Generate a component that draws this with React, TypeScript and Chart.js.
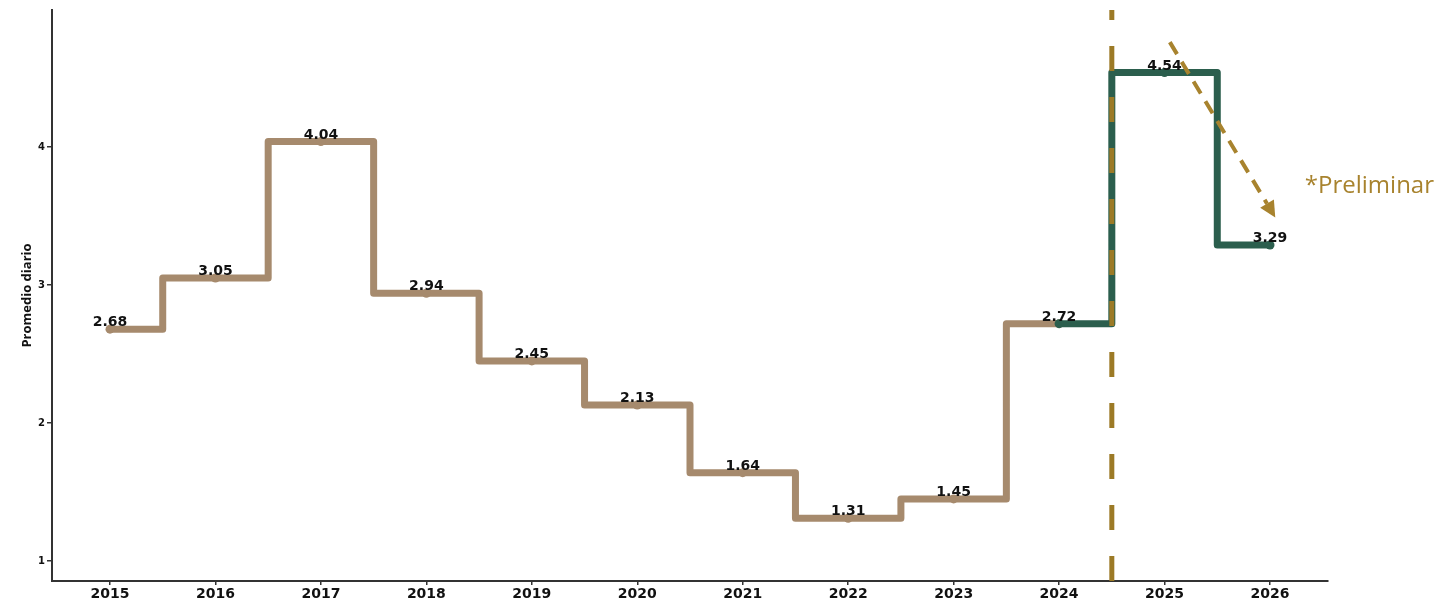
import React, { useEffect, useRef } from "react";
import { Chart, registerables } from "chart.js";

Chart.register(...registerables);

const YEARS_HIST = [2015, 2016, 2017, 2018, 2019, 2020, 2021, 2022, 2023, 2024];
const VALUES_HIST = [2.68, 3.05, 4.04, 2.94, 2.45, 2.13, 1.64, 1.31, 1.45, 2.72];
const YEARS_PRELIM = [2024, 2025, 2026];
const VALUES_PRELIM = [2.72, 4.54, 3.29];
const X_TICKS = [2015, 2016, 2017, 2018, 2019, 2020, 2021, 2022, 2023, 2024, 2025, 2026];
const Y_TICKS = [1, 2, 3, 4];
const X_RANGE = [2014.45, 2026.55];
const Y_RANGE = [0.855, 4.993];
const DIVIDER_X = 2024.5;
const ARROW_FROM = [2025.05, 4.76];
const ARROW_TO = [2026.05, 3.49];
const NOTE_TEXT = "*Preliminar";
const NOTE_POS = [2026.33, 3.72];
const Y_TITLE = "Promedio diario";

const TAN = "#a68a6d";
const GREEN = "#2b5e4d";
const GOLD = "#9c7a26";
const ARROW_GOLD = "#a8832e";
const AXIS = "#333333";

export default function App() {
  const ref = useRef<HTMLCanvasElement | null>(null);

  useEffect(() => {
    if (!ref.current) return;

    const overlay = {
      id: "overlay",
      afterDatasetsDraw(chart: any) {
        const ctx = chart.ctx;
        const xs = chart.scales.x;
        const ys = chart.scales.y;
        const area = chart.chartArea;

        // vertical divider
        ctx.save();
        const dx = xs.getPixelForValue(DIVIDER_X);
        ctx.strokeStyle = GOLD;
        ctx.lineWidth = 5;
        ctx.setLineDash([25, 26]);
        ctx.lineDashOffset = 15;
        ctx.beginPath();
        ctx.moveTo(dx, area.top);
        ctx.lineTo(dx, area.bottom);
        ctx.stroke();
        ctx.restore();

        // arrow
        ctx.save();
        const ax0 = xs.getPixelForValue(ARROW_FROM[0]);
        const ay0 = ys.getPixelForValue(ARROW_FROM[1]);
        const ax1 = xs.getPixelForValue(ARROW_TO[0]);
        const ay1 = ys.getPixelForValue(ARROW_TO[1]);
        const ang = Math.atan2(ay1 - ay0, ax1 - ax0);
        const headLen = 16;
        const headW = 8;
        const bx = ax1 - headLen * Math.cos(ang);
        const by = ay1 - headLen * Math.sin(ang);
        ctx.strokeStyle = ARROW_GOLD;
        ctx.lineWidth = 4;
        ctx.setLineDash([14, 9]);
        ctx.beginPath();
        ctx.moveTo(ax0, ay0);
        ctx.lineTo(bx, by);
        ctx.stroke();
        ctx.setLineDash([]);
        ctx.fillStyle = ARROW_GOLD;
        ctx.beginPath();
        ctx.moveTo(ax1, ay1);
        ctx.lineTo(bx + headW * Math.sin(ang), by - headW * Math.cos(ang));
        ctx.lineTo(bx - headW * Math.sin(ang), by + headW * Math.cos(ang));
        ctx.closePath();
        ctx.fill();
        ctx.restore();

        // data labels
        ctx.save();
        ctx.font = "bold 14px 'DejaVu Sans'";
        ctx.fillStyle = "#111111";
        ctx.textAlign = "center";
        ctx.textBaseline = "alphabetic";
        chart.data.datasets.forEach((ds: any, di: number) => {
          const meta = chart.getDatasetMeta(di);
          meta.data.forEach((pt: any, i: number) => {
            if (ds.skipFirstLabel && i === 0) return;
            const v = ds.data[i].y;
            ctx.fillText(v.toFixed(2), pt.x, pt.y - 3);
          });
        });
        ctx.restore();

        // note text
        ctx.save();
        ctx.font = "24px 'Open Sans'";
        ctx.fillStyle = ARROW_GOLD;
        ctx.textAlign = "left";
        ctx.textBaseline = "middle";
        ctx.fillText(NOTE_TEXT, xs.getPixelForValue(NOTE_POS[0]), ys.getPixelForValue(NOTE_POS[1]));
        ctx.restore();
      },
    };

    const chart = new Chart(ref.current, {
      type: "line",
      data: {
        datasets: [
          {
            label: "Preliminar",
            data: YEARS_PRELIM.map((x, i) => ({ x, y: VALUES_PRELIM[i] })),
            borderColor: GREEN,
            backgroundColor: GREEN,
            borderWidth: 7,
            stepped: "middle",
            pointRadius: 4.5,
            pointHoverRadius: 4.5,
            pointBorderWidth: 0,
            borderJoinStyle: "round",
            borderCapStyle: "round",
            order: 0,
            skipFirstLabel: true,
          } as any,
          {
            label: "Histórico",
            data: YEARS_HIST.map((x, i) => ({ x, y: VALUES_HIST[i] })),
            borderColor: TAN,
            backgroundColor: TAN,
            borderWidth: 7,
            stepped: "middle",
            pointRadius: 4.5,
            pointHoverRadius: 4.5,
            pointBorderWidth: 0,
            borderJoinStyle: "round",
            borderCapStyle: "round",
            order: 1,
          } as any,
        ],
      },
      options: {
        animation: false,
        responsive: true,
        maintainAspectRatio: false,
        layout: { padding: { top: 10, right: 109, left: 0, bottom: 0 } },
        plugins: {
          legend: { display: false },
          tooltip: { enabled: false },
        },
        scales: {
          x: {
            type: "linear",
            min: X_RANGE[0],
            max: X_RANGE[1],
            afterBuildTicks: (scale: any) => {
              scale.ticks = X_TICKS.map((v) => ({ value: v }));
            },
            afterFit: (scale: any) => {
              scale.height = 22;
            },
            ticks: {
              callback: (v: any) => String(v),
              font: { family: "'DejaVu Sans'", weight: "bold", size: 14 },
              color: "#111111",
              padding: 1,
              maxRotation: 0,
              autoSkip: false,
            },
            grid: {
              display: true,
              drawOnChartArea: false,
              drawTicks: true,
              tickLength: 4,
              color: AXIS,
              lineWidth: 1.5,
            },
            border: { display: true, color: AXIS, width: 2 },
          },
          y: {
            type: "linear",
            min: Y_RANGE[0],
            max: Y_RANGE[1],
            afterBuildTicks: (scale: any) => {
              scale.ticks = Y_TICKS.map((v) => ({ value: v }));
            },
            afterFit: (scale: any) => {
              scale.width = 52;
            },
            ticks: {
              callback: (v: any) => String(v),
              font: { family: "'DejaVu Sans'", weight: "bold", size: 10 },
              color: "#111111",
              padding: 2,
            },
            grid: {
              display: true,
              drawOnChartArea: false,
              drawTicks: true,
              tickLength: 5,
              color: AXIS,
              lineWidth: 1.5,
            },
            border: { display: true, color: AXIS, width: 2 },
            title: {
              display: true,
              text: Y_TITLE,
              font: { family: "'Open Sans'", weight: "bold", size: 13 },
              color: "#111111",
              padding: { top: 19, bottom: 0 },
            },
          },
        },
      },
      plugins: [overlay],
    });

    return () => chart.destroy();
  }, []);

  return (
    <div style={{ position: "absolute", left: 0, top: 0, width: 1437, height: 603, background: "#ffffff" }}>
      <canvas ref={ref} />
    </div>
  );
}
